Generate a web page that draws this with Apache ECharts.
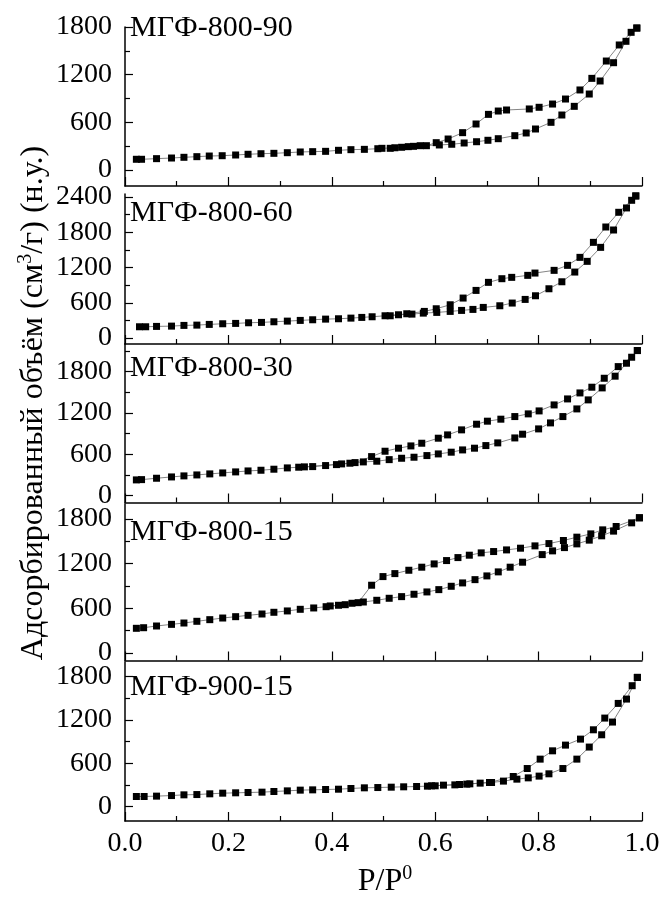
<!DOCTYPE html>
<html>
<head>
<meta charset="utf-8">
<script src="https://cdn.jsdelivr.net/npm/echarts@6/dist/echarts.min.js"></script>
<style>
html,body{margin:0;padding:0;background:#fff;}
#c{width:663px;height:904px;}
</style>
</head>
<body>
<div id="c"></div>
<script>
// ---- data (P/P0, volume cm3/g) ----
const panelNames = ['МГФ-800-90', 'МГФ-800-60', 'МГФ-800-30', 'МГФ-800-15', 'МГФ-900-15'];
const xTicks = [0, 0.2, 0.4, 0.6, 0.8, 1.0];
const yTicks90 = [0, 600, 1200, 1800];
const yTicks60 = [0, 600, 1200, 1800, 2400];
const yTicks30 = [0, 600, 1200, 1800];
const yTicks15 = [0, 600, 1200, 1800];
const yTicks900 = [0, 600, 1200, 1800];

const ads90 = [[0.022,136],[0.032,136],[0.061,144],[0.090,152],[0.114,161],[0.139,169],[0.163,177],[0.188,181],[0.214,190],[0.238,199],[0.263,206],[0.288,211],[0.314,219],[0.339,228],[0.363,232],[0.388,236],[0.413,249],[0.437,257],[0.463,261],[0.489,269],[0.497,274],[0.522,281],[0.548,295],[0.571,307],[0.608,316],[0.632,325],[0.656,341],[0.680,357],[0.702,375],[0.722,395],[0.754,433],[0.776,467],[0.794,517],[0.824,601],[0.845,693],[0.869,802],[0.898,957],[0.919,1121],[0.945,1351],[0.969,1620],[0.990,1787]];
const des90 = [[0.990,1787],[0.979,1733],[0.956,1574],[0.931,1372],[0.903,1154],[0.880,1008],[0.852,894],[0.827,831],[0.801,790],[0.782,769],[0.738,756],[0.722,743],[0.703,701],[0.679,580],[0.653,471],[0.625,391],[0.602,345],[0.583,307],[0.558,299],[0.535,287],[0.513,274]];

const ads60 = [[0.028,193],[0.040,193],[0.061,199],[0.090,204],[0.114,216],[0.139,221],[0.163,233],[0.189,244],[0.214,250],[0.239,261],[0.264,267],[0.288,278],[0.314,289],[0.339,301],[0.363,312],[0.388,323],[0.413,329],[0.437,340],[0.458,352],[0.478,363],[0.503,380],[0.529,397],[0.555,408],[0.577,425],[0.603,437],[0.629,454],[0.651,471],[0.673,488],[0.693,522],[0.725,550],[0.749,596],[0.774,658],[0.794,720],[0.820,839],[0.845,958],[0.870,1123],[0.894,1305],[0.920,1543],[0.945,1838],[0.970,2213],[0.988,2417]];
const des60 = [[0.988,2417],[0.980,2343],[0.955,2139],[0.930,1889],[0.906,1628],[0.880,1373],[0.856,1237],[0.830,1152],[0.793,1106],[0.779,1067],[0.748,1033],[0.729,1010],[0.703,948],[0.679,811],[0.654,681],[0.629,567],[0.602,499],[0.579,454],[0.545,414],[0.513,380]];

const ads30 = [[0.022,228],[0.032,232],[0.061,252],[0.090,271],[0.114,286],[0.139,300],[0.164,315],[0.189,329],[0.214,344],[0.238,358],[0.263,368],[0.288,383],[0.314,402],[0.336,412],[0.363,421],[0.388,436],[0.409,450],[0.435,470],[0.461,489],[0.487,499],[0.511,522],[0.535,542],[0.559,557],[0.584,581],[0.606,605],[0.631,630],[0.653,663],[0.676,688],[0.698,726],[0.721,765],[0.754,837],[0.769,891],[0.800,968],[0.823,1055],[0.847,1147],[0.874,1258],[0.896,1389],[0.923,1563],[0.948,1733],[0.970,1921],[0.991,2105]];
const des30 = [[0.991,2105],[0.980,2008],[0.954,1872],[0.927,1703],[0.903,1573],[0.880,1490],[0.856,1403],[0.830,1316],[0.801,1229],[0.780,1186],[0.754,1147],[0.727,1109],[0.701,1080],[0.680,1036],[0.651,954],[0.624,881],[0.606,833],[0.574,760],[0.553,721],[0.529,688],[0.503,644],[0.477,566],[0.445,479],[0.419,460],[0.347,417]];

const ads15 = [[0.022,332],[0.036,340],[0.061,363],[0.090,385],[0.114,403],[0.139,426],[0.164,448],[0.189,470],[0.214,488],[0.238,506],[0.265,524],[0.288,547],[0.314,565],[0.339,587],[0.365,605],[0.389,622],[0.413,641],[0.439,668],[0.461,685],[0.487,708],[0.511,735],[0.535,757],[0.559,789],[0.584,820],[0.607,851],[0.631,896],[0.653,941],[0.677,985],[0.700,1035],[0.722,1089],[0.745,1152],[0.769,1219],[0.807,1321],[0.827,1371],[0.850,1415],[0.874,1465],[0.898,1515],[0.922,1573],[0.945,1636],[0.980,1747],[0.995,1815]];
const des15 = [[0.995,1815],[0.950,1698],[0.924,1653],[0.901,1599],[0.874,1555],[0.848,1510],[0.820,1469],[0.793,1438],[0.765,1407],[0.738,1384],[0.713,1362],[0.689,1344],[0.666,1313],[0.644,1281],[0.622,1241],[0.598,1196],[0.574,1152],[0.549,1111],[0.522,1066],[0.499,1026],[0.477,910],[0.451,676],[0.426,649],[0.397,632]];

const ads900 = [[0.022,139],[0.037,139],[0.061,144],[0.090,152],[0.114,162],[0.139,166],[0.164,176],[0.189,185],[0.214,190],[0.238,194],[0.265,199],[0.288,208],[0.314,217],[0.339,227],[0.363,231],[0.388,236],[0.413,240],[0.437,250],[0.463,259],[0.489,263],[0.515,268],[0.539,273],[0.564,277],[0.585,282],[0.600,287],[0.616,296],[0.638,300],[0.661,310],[0.687,324],[0.709,333],[0.732,352],[0.758,379],[0.780,397],[0.801,421],[0.820,453],[0.847,526],[0.874,656],[0.898,823],[0.922,993],[0.943,1169],[0.970,1487],[0.991,1787]];
const des900 = [[0.991,1787],[0.981,1672],[0.954,1427],[0.928,1224],[0.906,1062],[0.881,933],[0.852,850],[0.827,771],[0.803,656],[0.778,526],[0.751,416],[0.705,333],[0.667,314],[0.647,305],[0.593,287]];

// ---- layout ----
const FONT = 'Liberation Serif';
const panels = [
  {top: 27,  height: 159, min: -200, max: 1800, ticks: yTicks90,  ads: ads90,  des: des90,  labelY: 28},
  {top: 194, height: 150, min: -100, max: 2450, ticks: yTicks60,  ads: ads60,  des: des60,  labelY: 213},
  {top: 344, height: 158.5, min: -100, max: 2200, ticks: yTicks30, ads: ads30, des: des30, labelY: 368},
  {top: 504, height: 156.5, min: -100, max: 2000, ticks: yTicks15, ads: ads15, des: des15, labelY: 532},
  {top: 662, height: 159, min: -200, max: 2000, ticks: yTicks900, ads: ads900, des: des900, labelY: 687}
];

const grids = [], xAxes = [], yAxes = [], series = [], graphics = [];
panels.forEach((p, i) => {
  grids.push({left: 125, right: 21, top: p.top, height: p.height});
  const last = i === panels.length - 1;
  xAxes.push({
    type: 'value', gridIndex: i, min: 0, max: 1, interval: 0.2,
    axisLine: {show: true, onZero: false, lineStyle: {color: '#000', width: 1.5}},
    axisTick: {show: true, inside: true, length: 9, lineStyle: {color: '#000', width: 1.2}},
    minorTick: {show: true, splitNumber: 2, length: 5, lineStyle: {color: '#000', width: 1.2}},
    splitLine: {show: false}, minorSplitLine: {show: false},
    axisLabel: {show: last, margin: 9, fontFamily: FONT, fontSize: 28, color: '#000',
      formatter: v => xTicks.some(t => Math.abs(t - v) < 1e-9) ? v.toFixed(1) : ''}
  });
  const minors = [];
  for (let v = 300; v < p.max; v += 600) minors.push(v);
  yAxes.push({
    type: 'value', gridIndex: i, min: p.min, max: p.max, position: 'left',
    axisLine: {show: true, onZero: false, lineStyle: {color: '#000', width: 1.5}},
    axisTick: {show: true, inside: true, length: 8, customValues: p.ticks, lineStyle: {color: '#000', width: 1.2}},
    axisLabel: {show: true, margin: 13, customValues: p.ticks, fontFamily: FONT, fontSize: 28, color: '#000',
      formatter: v => String(v)},
    splitLine: {show: false}
  });
  yAxes.push({
    type: 'value', gridIndex: i, min: p.min, max: p.max, position: 'left', offset: 0,
    axisLine: {show: false},
    axisTick: {show: true, inside: true, length: 5, customValues: minors, lineStyle: {color: '#000', width: 1.2}},
    axisLabel: {show: false},
    splitLine: {show: false}
  });
  const common = {
    type: 'line', xAxisIndex: i, yAxisIndex: 2 * i, symbol: 'rect', symbolSize: 7,
    showAllSymbol: true, clip: false, silent: true, animation: false,
    itemStyle: {color: '#000'}, lineStyle: {color: '#666', width: 0.8}
  };
  series.push(Object.assign({}, common, {name: panelNames[i] + ' ads', data: p.ads}));
  series.push(Object.assign({}, common, {name: panelNames[i] + ' des', data: p.des}));
  graphics.push({
    type: 'text', x: 130, y: p.labelY,
    style: {text: panelNames[i], fontFamily: FONT, fontSize: 30, fill: '#000', align: 'left', verticalAlign: 'middle'}
  });
});

graphics.push({
  type: 'text', x: 34, y: 403, rotation: Math.PI / 2,
  style: {
    text: '{a|Адсорбированный объём (см}{s|3}{a|/г) (н.у.)}',
    align: 'center', verticalAlign: 'middle', fill: '#000',
    rich: {
      a: {fontFamily: FONT, fontSize: 32, lineHeight: 36, fill: '#000'},
      s: {fontFamily: FONT, fontSize: 20, lineHeight: 20, verticalAlign: 'top', fill: '#000'}
    }
  }
});
graphics.push({
  type: 'text', x: 385, y: 882,
  style: {
    text: '{a|P/P}{s|0}',
    align: 'center', verticalAlign: 'middle', fill: '#000',
    rich: {
      a: {fontFamily: FONT, fontSize: 32, lineHeight: 36, fill: '#000'},
      s: {fontFamily: FONT, fontSize: 20, lineHeight: 20, verticalAlign: 'top', fill: '#000'}
    }
  }
});

const chart = echarts.init(document.getElementById('c'), null, {renderer: 'canvas'});
chart.setOption({
  animation: false,
  backgroundColor: '#fff',
  grid: grids, xAxis: xAxes, yAxis: yAxes, series: series, graphic: graphics
});
</script>
</body>
</html>
